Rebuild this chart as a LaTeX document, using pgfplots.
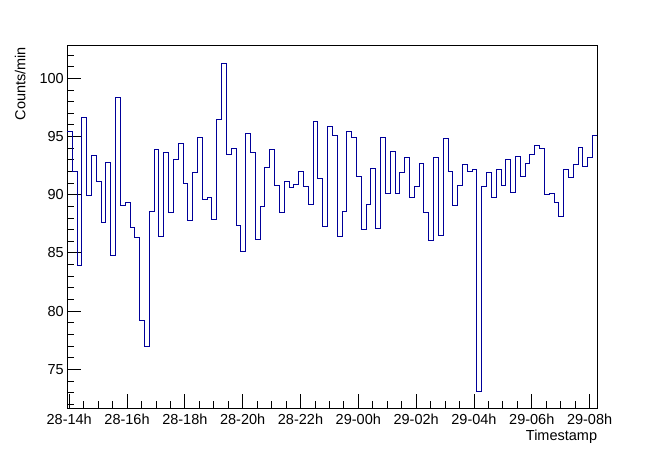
\documentclass[border=0pt]{standalone}
\usepackage{fontspec}
\setmainfont{Liberation Sans}
\usepackage{pgfplots}
\pgfplotsset{compat=1.18}
\definecolor{histblue}{RGB}{0,0,153}

\begin{document}
\begin{tikzpicture}
\path[use as bounding box] (-67.3bp,-45.7bp) rectangle (596.7bp,408.3bp);
\begin{axis}[
  at={(0,0)}, anchor=south west,
  scale only axis,
  width=530bp, height=362.6bp,
  xmin=-4, xmax=1096,
  ymin=71.65, ymax=102.8,
  xtick={0,120,...,1080},
  xticklabels={28-14h,28-16h,28-18h,28-20h,28-22h,29-00h,29-02h,29-04h,29-06h,29-08h},
  minor xtick={30,60,...,1080},
  ytick={75,80,...,100},
  minor ytick={72,73,...,102},
  tick align=inside,
  xtick pos=bottom, ytick pos=left,
  major tick length=14bp, minor tick length=7bp,
  every tick/.style={black, line width=0.8bp},
  axis line style={black, line width=0.8bp},
  /pgf/number format/assume math mode=true,
  tick label style={font=\fontsize{14.5bp}{16bp}\selectfont},
  xticklabel style={yshift=-2bp},
  xlabel={Timestamp},
  ylabel={Counts/min},
  label style={font=\fontsize{14.5bp}{16bp}\selectfont},
  xlabel style={at={(axis description cs:1,-0.0579)}, anchor=north east, inner sep=0pt},
  ylabel style={at={(axis description cs:-0.0792,0.997)}, anchor=base east, inner sep=0pt, rotate=0},
  clip=false,
]
\addplot[const plot, color=histblue, line width=0.8bp, mark=none] coordinates {
(-4,95.4) (6,92.0) (16,83.9) (26,96.6) (36,89.9) (46,93.4) (56,91.1) (66,87.6) (76,92.8) (86,84.8)
(96,98.4) (106,89.1) (116,89.3) (126,87.2) (136,86.3) (146,79.2) (156,77.0) (166,88.6) (176,93.9) (186,86.4)
(196,93.6) (206,88.5) (216,93.0) (226,94.4) (236,91.0) (246,87.8) (256,91.9) (266,94.9) (276,89.6) (286,89.8)
(296,87.9) (306,96.5) (316,101.3) (326,93.5) (336,94.0) (346,87.4) (356,85.1) (366,95.3) (376,93.6) (386,86.2)
(396,89.0) (406,92.35) (416,93.9) (426,90.8) (436,88.5) (446,91.1) (456,90.6) (466,90.9) (476,92.0) (486,90.75)
(496,89.2) (506,96.3) (516,91.4) (526,87.3) (536,95.9) (546,95.1) (556,86.4) (566,88.6) (576,95.4) (586,94.9)
(596,91.55) (606,87.0) (616,89.2) (626,92.3) (636,87.1) (646,94.9) (656,90.1) (666,93.7) (676,90.1) (686,91.9)
(696,93.2) (706,89.8) (716,90.7) (726,92.7) (736,88.5) (746,86.1) (756,93.2) (766,86.5) (776,94.8) (786,92.0)
(796,89.1) (806,90.8) (816,92.6) (826,92.0) (836,92.2) (846,73.1) (856,90.7) (866,91.9) (876,89.8) (886,92.2)
(896,90.8) (906,93.0) (916,90.2) (926,93.3) (936,91.6) (946,92.7) (956,93.5) (966,94.2) (976,93.95) (986,90.0)
(996,90.1) (1006,89.3) (1016,88.1) (1026,92.2) (1036,91.5) (1046,92.6) (1056,94.1) (1066,92.4) (1076,93.2) (1086,95.1)
(1096,95.1)
};
\end{axis}
\end{tikzpicture}
\end{document}
